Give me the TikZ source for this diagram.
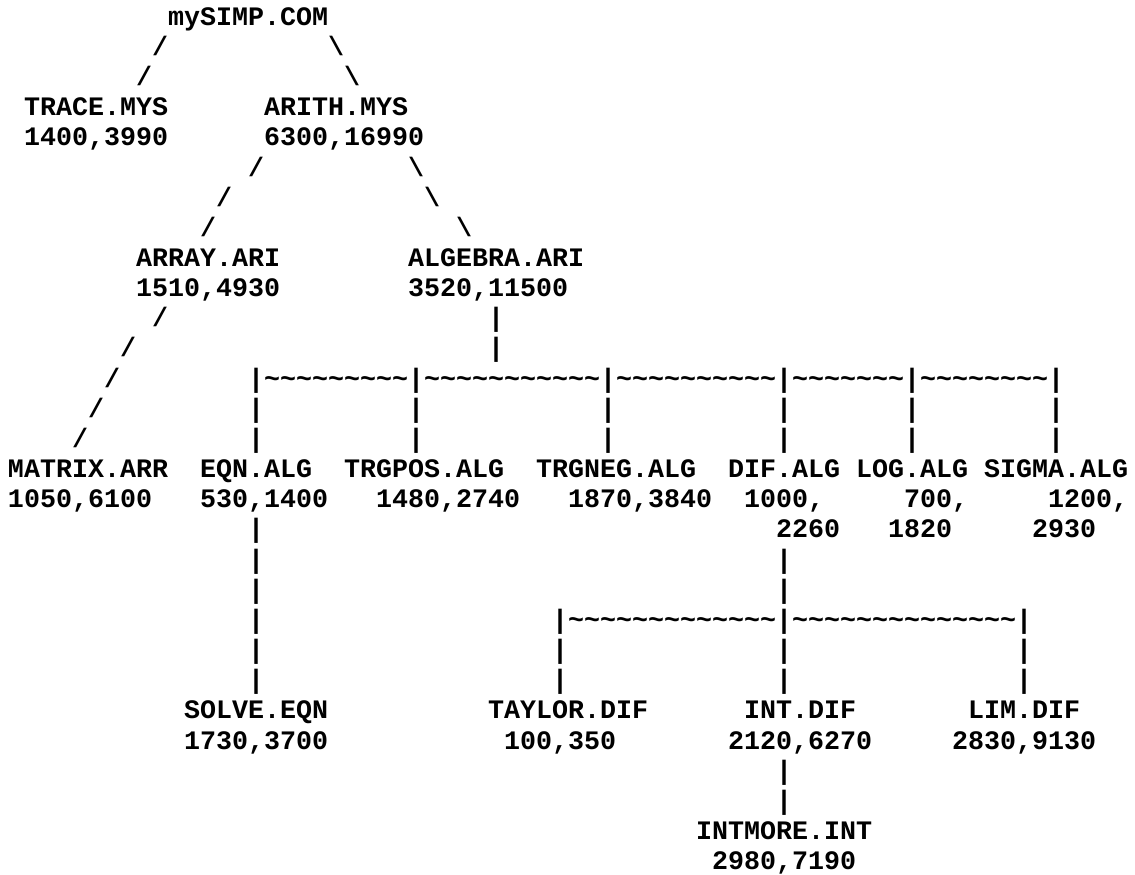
\documentclass[tikz,border=0pt]{standalone}
\usepackage{fontspec}
\setmonofont{Liberation Mono}
\newcommand\asc[4]{\node[asctext] (#3) at ({8+16*#1},{-25.2-30.16*#2}) {#4};}
\tikzset{asctext/.style={inner sep=0pt, outer sep=0pt, anchor=base west,
  font=\ttfamily\bfseries\fontsize{26.67pt}{30.2pt}\selectfont}}
\begin{document}
\begin{tikzpicture}[x=1pt,y=1pt]
\useasboundingbox (0,0) rectangle (1135,-875);
\asc{10}{0}{mysimp}{mySIMP.COM}
\asc{9}{1}{s1a}{/}
\asc{20}{1}{s1b}{\textbackslash}
\asc{8}{2}{s2a}{/}
\asc{21}{2}{s2b}{\textbackslash}
\asc{1}{3}{trace}{TRACE.MYS}
\asc{16}{3}{arith}{ARITH.MYS}
\asc{1}{4}{traceN}{1400,3990}
\asc{16}{4}{arithN}{6300,16990}
\asc{15}{5}{s5a}{/}
\asc{25}{5}{s5b}{\textbackslash}
\asc{13}{6}{s6a}{/}
\asc{26}{6}{s6b}{\textbackslash}
\asc{12}{7}{s7a}{/}
\asc{28}{7}{s7b}{\textbackslash}
\asc{8}{8}{array}{ARRAY.ARI}
\asc{25}{8}{algebra}{ALGEBRA.ARI}
\asc{8}{9}{arrayN}{1510,4930}
\asc{25}{9}{algebraN}{3520,11500}
\asc{9}{10}{s10a}{/}
\asc{30}{10}{p10}{|}
\asc{7}{11}{s11a}{/}
\asc{30}{11}{p11}{|}
\asc{6}{12}{s12a}{/}
\asc{15}{12}{bar12}{\detokenize{|~~~~~~~~~|~~~~~~~~~~~|~~~~~~~~~~|~~~~~~~|~~~~~~~~|}}
\asc{5}{13}{s13a}{/}
\asc{4}{14}{s14a}{/}
\foreach \c in {15,25,37,48,56,65} {
  \asc{\c}{13}{pa\c}{|}
  \asc{\c}{14}{pb\c}{|}
}
\asc{0}{15}{matrix}{MATRIX.ARR}
\asc{12}{15}{eqn}{EQN.ALG}
\asc{21}{15}{trgpos}{TRGPOS.ALG}
\asc{33}{15}{trgneg}{TRGNEG.ALG}
\asc{45}{15}{dif}{DIF.ALG}
\asc{53}{15}{log}{LOG.ALG}
\asc{61}{15}{sigma}{SIGMA.ALG}
\asc{0}{16}{matrixN}{1050,6100}
\asc{12}{16}{eqnN}{530,1400}
\asc{23}{16}{trgposN}{1480,2740}
\asc{35}{16}{trgnegN}{1870,3840}
\asc{46}{16}{difN}{1000,}
\asc{56}{16}{logN}{700,}
\asc{65}{16}{sigmaN}{1200,}
\asc{15}{17}{p17}{|}
\asc{48}{17}{difM}{2260}
\asc{55}{17}{logM}{1820}
\asc{64}{17}{sigmaM}{2930}
\foreach \c in {15,48} {
  \asc{\c}{18}{pc\c}{|}
  \asc{\c}{19}{pd\c}{|}
}
\asc{15}{20}{p20}{|}
\asc{34}{20}{bar20}{\detokenize{|~~~~~~~~~~~~~|~~~~~~~~~~~~~~|}}
\foreach \c in {15,34,48,63} {
  \asc{\c}{21}{pe\c}{|}
  \asc{\c}{22}{pf\c}{|}
}
\asc{11}{23}{solve}{SOLVE.EQN}
\asc{30}{23}{taylor}{TAYLOR.DIF}
\asc{46}{23}{int}{INT.DIF}
\asc{60}{23}{lim}{LIM.DIF}
\asc{11}{24}{solveN}{1730,3700}
\asc{31}{24}{taylorN}{100,350}
\asc{45}{24}{intN}{2120,6270}
\asc{59}{24}{limN}{2830,9130}
\asc{48}{25}{p25}{|}
\asc{48}{26}{p26}{|}
\asc{43}{27}{intmore}{INTMORE.INT}
\asc{44}{28}{intmoreN}{2980,7190}
\end{tikzpicture}
\end{document}
